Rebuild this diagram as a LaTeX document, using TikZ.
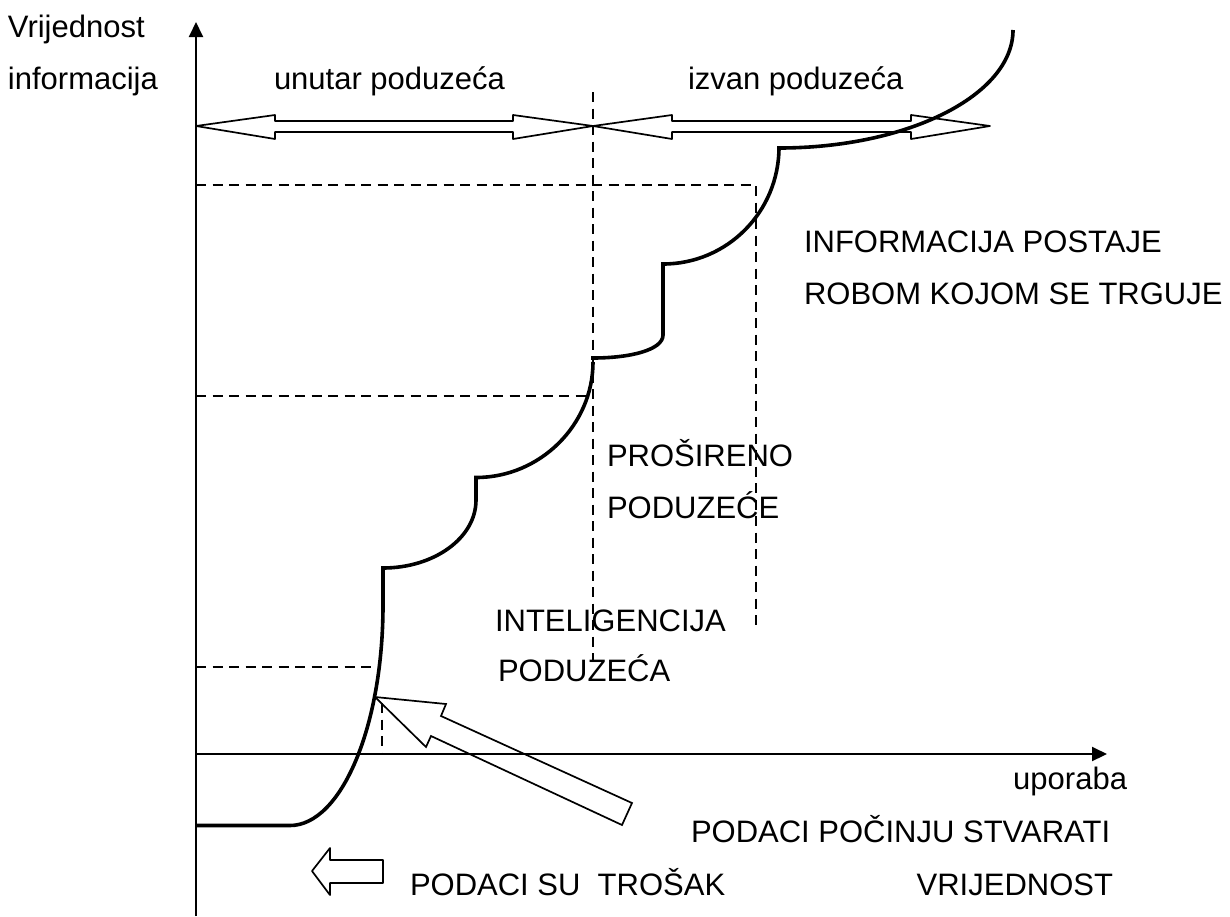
\documentclass[tikz,border=0pt]{standalone}
\usepackage{fontspec}
\setmainfont{Liberation Sans}
\usetikzlibrary{arrows.meta}
\tikzset{
  lbl/.style={anchor=base west,inner sep=0pt,outer sep=0pt,font=\fontsize{31}{31}\selectfont},
  lblr/.style={lbl,anchor=base east},
  axisline/.style={line width=2pt,-{Triangle[length=15pt,width=14pt]}},
  guide/.style={line width=1.8pt,dash pattern=on 10pt off 6.5pt},
  curvethick/.style={line width=3.6pt,line cap=butt},
  hollow/.style={line width=1.7pt,line join=round},
  hollowsharp/.style={line width=1.7pt,line join=miter}
}
\begin{document}
\begin{tikzpicture}[x=1pt,y=-1pt]
\useasboundingbox (0,0) rectangle (1230,916);
\fill[white] (0,0) rectangle (1230,916);
% axes
\coordinate (O) at (196,754);
\coordinate (ybot) at (196,916);
\coordinate (ytop) at (196,22);
\coordinate (xtip) at (1107,754);
\draw[axisline] (ybot) -- (ytop);
\draw[axisline] (O) -- (xtip);
% guides
\coordinate (g1a) at (196,185); \coordinate (g1b) at (756,185); \coordinate (g1c) at (756,628);
\coordinate (g2a) at (593,92);  \coordinate (g2b) at (593,660);
\coordinate (g3a) at (196,396); \coordinate (g3b) at (593,396);
\coordinate (g4a) at (196,667); \coordinate (g4b) at (380,667);
\coordinate (g5a) at (382,703); \coordinate (g5b) at (382,754);
\draw[guide] (g1a) -- (g1b) -- (g1c);
\draw[guide] (g2a) -- (g2b);
\draw[guide] (g3a) -- (g3b);
\draw[guide] (g4a) -- (g4b);
\draw[guide] (g5a) -- (g5b);
% value curve
\draw[curvethick]
  (196,825.5) -- (290,825.5) .. controls (341,825.5) and (383,727) .. (383,605) -- (383,568);
\draw[curvethick]
  (381,568) -- (383,568) .. controls (434,568) and (476,538) .. (476,500) -- (476,476);
\draw[curvethick]
  (474,477.5) -- (476,477.5) .. controls (540,477.5) and (593,425) .. (593,362);
\draw[curvethick]
  (591,358) -- (593,358) .. controls (630,358) and (663,350) .. (663,335) -- (663,263);
\draw[curvethick]
  (661,264) -- (663,264) .. controls (727,264) and (779,212) .. (779,147);
\draw[curvethick]
  (777,148) -- (779,148) .. controls (908,148) and (1013,95) .. (1013,30);
% double arrows
\draw[hollow] (196,126) -- (275,115) -- (275,121) -- (513,121) -- (513,115) -- (593,126)
  -- (513,139) -- (513,132) -- (275,132) -- (275,139) -- cycle;
\draw[hollow] (593,126) -- (672,115) -- (672,121) -- (911,121) -- (911,115) -- (990,126)
  -- (911,139) -- (911,132) -- (672,132) -- (672,139) -- cycle;
% big arrow
\draw[hollowsharp] (375,697) -- (446,704) -- (441,716) -- (632,803) -- (622,825) -- (431,736) -- (426,747) -- cycle;
% small arrow
\draw[hollow] (312,871) -- (330,848) -- (330,860) -- (383,860) -- (383,883) -- (330,883) -- (330,895) -- cycle;
% labels
\node[lbl] (t1) at (8,37) {Vrijednost};
\node[lbl] (t2) at (8,89) {informacija};
\node[lbl] (t3) at (274,89) {unutar poduzeća};
\node[lbl] (t4) at (688,89) {izvan poduzeća};
\node[lbl] (t5) at (804,252) {INFORMACIJA POSTAJE};
\node[lbl] (t6) at (804,304) {ROBOM KOJOM SE TRGUJE};
\node[lbl] (t7) at (607,466) {PROŠIRENO};
\node[lbl] (t8) at (607,518) {PODUZEĆE};
\node[lbl] (t9) at (495,631) {INTELIGENCIJA};
\node[lbl] (t10) at (498,681) {PODUZEĆA};
\node[lblr] (t11) at (1127,789) {uporaba};
\node[lbl] (t12) at (691,842) {PODACI POČINJU STVARATI};
\node[lbl] (t13) at (410,895) {PODACI SU\ \ TROŠAK};
\node[lblr] (t14) at (1113,895) {VRIJEDNOST};
\end{tikzpicture}
\end{document}
